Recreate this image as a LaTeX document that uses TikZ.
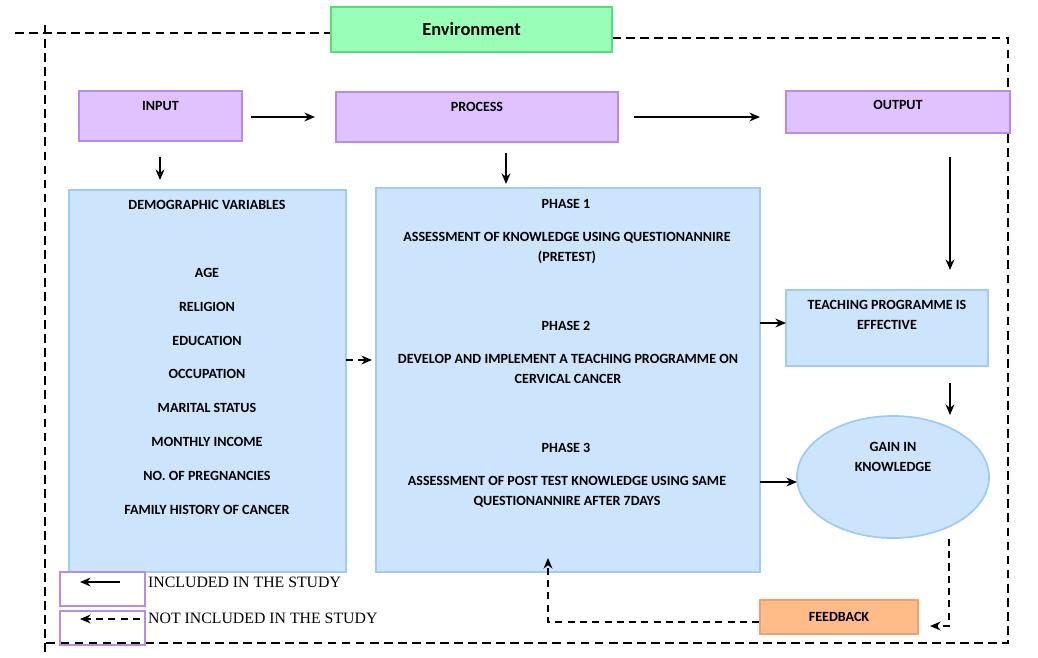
\documentclass[tikz,border=0pt]{standalone}
\usepackage{fontspec}
\setmainfont{Carlito}
\newfontfamily\tms{Liberation Serif}
\usetikzlibrary{arrows.meta,shapes.geometric}
\definecolor{pfill}{HTML}{DFC2FF}\definecolor{pdraw}{HTML}{B88BE8}
\definecolor{bfill}{HTML}{CCE5FC}\definecolor{bdraw}{HTML}{9FCBF5}
\definecolor{gfill}{HTML}{99FFB8}\definecolor{gdraw}{HTML}{55DD77}
\definecolor{ofill}{HTML}{FFBB88}\definecolor{odraw}{HTML}{F0A070}
\begin{document}
\begin{tikzpicture}[x=0.02cm,y=-0.02cm,
 txt/.style={font=\fontsize{8}{9.5}\selectfont\bfseries,align=center},
 pbox/.style={draw=pdraw,fill=pfill,line width=1.2pt},
 bbox/.style={draw=bdraw,fill=bfill,line width=1pt},
 arr/.style={-{Stealth[length=6pt,width=5pt]},line width=1.1pt},
 darr/.style={arr,dash pattern=on 4pt off 3pt},
 dline/.style={line width=1.3pt,dash pattern=on 5pt off 3pt}]
\useasboundingbox (0,0) rectangle (1038,657);
% environment border
\draw[dline] (15,33)--(331,33);
\draw[dline] (612,38)--(1008,38)--(1008,643)--(43,643);
\draw[dline] (45,25)--(45,657);
\node[draw=gdraw,fill=gfill,line width=1.2pt,minimum width=281*0.02cm,minimum height=45*0.02cm,font=\fontsize{10.5}{12}\selectfont\bfseries] (env) at (471.5,29.5) {Environment};
% top boxes
\draw[pbox] (79,91) rectangle (242,141); \node[txt] (in) at (160.5,106) {INPUT};
\draw[pbox] (336,92) rectangle (618,142); \node[txt] (pr) at (477,107) {PROCESS};
\draw[pbox] (786,91) rectangle (1010,133); \node[txt] (out) at (898,105) {OUTPUT};
\coordinate (a1) at (251,117); \coordinate (a2) at (315,117);
\coordinate (a3) at (634,117); \coordinate (a4) at (760,117);
\draw[arr] (a1)--(a2); \draw[arr] (a3)--(a4);
\coordinate (d1) at (160,157); \coordinate (d2) at (160,180);
\coordinate (d3) at (506,153); \coordinate (d4) at (506,184);
\coordinate (d5) at (950,157); \coordinate (d6) at (950,270);
\draw[arr] (d1)--(d2); \draw[arr] (d3)--(d4); \draw[arr] (d5)--(d6);
% demographic
\draw[bbox] (69,190) rectangle (346,572);
\node[txt] (dv) at (207,205) {DEMOGRAPHIC VARIABLES};
\foreach \t/\y [count=\i] in {AGE/273,RELIGION/307,EDUCATION/341,OCCUPATION/374,MARITAL STATUS/408,MONTHLY INCOME/442,NO. OF PREGNANCIES/476,FAMILY HISTORY OF CANCER/510}
  \node[txt] (v\i) at (207,\y) {\t};
% phases
\draw[bbox] (376,188) rectangle (760,572);
\node[txt] (p1) at (566,204) {PHASE 1};
\node[txt] (p1t) at (567,248) {ASSESSMENT OF KNOWLEDGE USING QUESTIONANNIRE\\[2pt](PRETEST)};
\node[txt] (p2) at (566,326) {PHASE 2};
\node[txt] (p2t) at (568,369) {DEVELOP AND IMPLEMENT A TEACHING PROGRAMME ON\\[2pt]CERVICAL CANCER};
\node[txt] (p3) at (566,448) {PHASE 3};
\node[txt] (p3t) at (567,492) {ASSESSMENT OF POST TEST KNOWLEDGE USING SAME\\[2pt]QUESTIONANNIRE AFTER 7DAYS};
% right
\draw[bbox] (786,290) rectangle (988,366);
\node[txt] (tp) at (887,315) {TEACHING PROGRAMME IS\\[2pt]EFFECTIVE};
\node[ellipse,bbox,minimum width=192*0.02cm,minimum height=122*0.02cm] (gk) at (893,477) {};
\node[txt] at (893,457) {GAIN IN\\[2pt]KNOWLEDGE};
\node[draw=odraw,fill=ofill,line width=1pt,minimum width=158*0.02cm,minimum height=34*0.02cm,txt] (fb) at (839,617) {FEEDBACK};
% arrows
\draw[darr] (346,360)--(372,360);
\draw[arr] (760,323)--(786,323);
\draw[arr] (760,482)--(797,482);
\draw[arr] (950,383)--(950,415);
\coordinate (f1) at (949,626); \coordinate (f2) at (548,622);
\draw[darr] (gk.south -| 949,0) -- (f1) -- (930,626);
\draw[darr] (fb.west |- 0,622) -- (f2) -- (548,558);
% legend
\draw[draw=pdraw,line width=1.2pt] (60,572) rectangle (145,606);
\draw[draw=pdraw,line width=1.2pt] (60,611) rectangle (145,645);
\draw[arr] (120,582)--(80,582);
\draw[darr] (140,619)--(80,619);
\node[anchor=west,font=\tms\fontsize{9}{10}\selectfont] (l1) at (142,582) {INCLUDED IN THE STUDY};
\node[anchor=west,font=\tms\fontsize{9}{10}\selectfont] (l2) at (142,618) {NOT INCLUDED IN THE STUDY};
\end{tikzpicture}
\end{document}
